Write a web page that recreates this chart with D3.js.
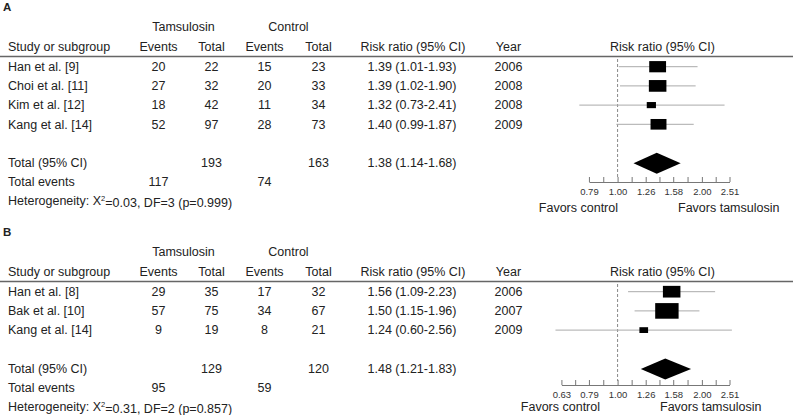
<!DOCTYPE html>
<html>
<head>
<meta charset="utf-8">
<script src="https://cdn.jsdelivr.net/npm/d3@7"></script>
<style>
    body { margin: 0; background: #fff; }
    text { font-family: "Liberation Sans", Arial, sans-serif; fill: #222; }
    .axe path, .axe line { stroke: #777; }
</style>
</head>
<body>
<script>
// Panel A
const etudesA = ["Han et al. [9]", "Choi et al. [11]", "Kim et al. [12]", "Kang et al. [14]"];
const evTamsA = [20, 27, 18, 52];
const totTamsA = [22, 32, 42, 97];
const evCtrlA = [15, 20, 11, 28];
const totCtrlA = [23, 33, 34, 73];
const rrA = [1.39, 1.39, 1.32, 1.40];
const basA = [1.01, 1.02, 0.73, 0.99];
const hautA = [1.93, 1.90, 2.41, 1.87];
const anneesA = [2006, 2008, 2008, 2009];
const poidsA = [30.5, 33.1, 9.1, 27.3];   // taille des carres (estimee)
const totauxA = [193, 163];
const totalEvA = [117, 74];
const globalA = [1.38, 1.14, 1.68];
const heteroA = ["0.03", "3", "0.999"];
const ticksA = [0.79, 1.00, 1.26, 1.58, 2.00, 2.51];

// Panel B
const etudesB = ["Han et al. [8]", "Bak et al. [10]", "Kang et al. [14]"];
const evTamsB = [29, 57, 9];
const totTamsB = [35, 75, 19];
const evCtrlB = [17, 34, 8];
const totCtrlB = [32, 67, 21];
const rrB = [1.56, 1.50, 1.24];
const basB = [1.09, 1.15, 0.60];
const hautB = [2.23, 1.96, 2.56];
const anneesB = [2006, 2007, 2009];
const poidsB = [33.0, 58.9, 8.1];
const totauxB = [129, 120];
const totalEvB = [95, 59];
const globalB = [1.48, 1.21, 1.83];
const heteroB = ["0.31", "2", "0.857"];
const ticksB = [0.63, 0.79, 1.00, 1.26, 1.58, 2.00, 2.51];

var svg = d3.select("body").append("svg")
    .attr("width", 795)
    .attr("height", 415);

var fmt = d3.format(".2f");
var pasLigne = 19.2;

// colonnes du tableau
var col = {
    etude: 8,
    evT: 158.5,
    totT: 211.5,
    evC: 264.5,
    totC: 318.5,
    rr: 412,
    annee: 508.5,
    graphe: 662.5
};

function panneau(p) {
    var g = svg.append("g").attr("transform", "translate(0," + p.top + ")");
    var n = p.etudes.length;
    var yLigne = k => 66.7 + k * pasLigne;

    // echelle log (meme px par decade dans les deux panneaux)
    var x = d3.scaleLog()
        .domain([p.ticks[0], 2.51])
        .range([729.5 - 280 * Math.log10(2.51 / p.ticks[0]), 729.5]);

    function texte(s, xx, yy, anchor) {
        return g.append("text")
            .attr("x", xx)
            .attr("y", yy)
            .attr("dy", "0.35em")
            .attr("text-anchor", anchor || "middle")
            .style("font-size", "12.5px")
            .text(s);
    }

    // lettre du panneau
    g.append("text")
        .attr("x", 3)
        .attr("y", 11)
        .style("font-size", "11.5px")
        .style("font-weight", "bold")
        .text(p.lettre);

    // en-tetes
    texte("Tamsulosin", 183.5, 26.7);
    texte("Control", 288.5, 26.7);
    texte("Study or subgroup", col.etude, 46.7, "start");
    texte("Events", col.evT, 46.7);
    texte("Total", col.totT, 46.7);
    texte("Events", col.evC, 46.7);
    texte("Total", col.totC, 46.7);
    texte("Risk ratio (95% CI)", col.rr + 1, 46.7);
    texte("Year", col.annee, 46.7);
    texte("Risk ratio (95% CI)", col.graphe, 46.7);

    g.append("line")
        .attr("x1", 0).attr("x2", 793)
        .attr("y1", 56.5).attr("y2", 56.5)
        .attr("stroke", "#666")
        .attr("stroke-width", 1.5);

    // lignes des etudes
    p.etudes.forEach(function(e, i) {
        var yy = yLigne(i);
        texte(e, col.etude, yy, "start");
        texte(p.evT[i], col.evT, yy);
        texte(p.totT[i], col.totT, yy);
        texte(p.evC[i], col.evC, yy);
        texte(p.totC[i], col.totC, yy);
        texte(fmt(p.rr[i]) + " (" + fmt(p.bas[i]) + "-" + fmt(p.haut[i]) + ")", col.rr, yy);
        texte(p.annees[i], col.annee, yy);
    });

    var yTot = yLigne(n + 1);
    texte("Total (95% CI)", col.etude, yTot, "start");
    texte(p.totaux[0], col.totT, yTot);
    texte(p.totaux[1], col.totC, yTot);
    texte(fmt(p.global[0]) + " (" + fmt(p.global[1]) + "-" + fmt(p.global[2]) + ")", col.rr, yTot);

    texte("Total events", col.etude, yLigne(n + 2), "start");
    texte(p.totalEv[0], col.evT, yLigne(n + 2));
    texte(p.totalEv[1], col.evC, yLigne(n + 2));

    var het = texte("", col.etude, yLigne(n + 2) + 18.6, "start");
    het.append("tspan").text("Heterogeneity: X");
    het.append("tspan").attr("dy", "-0.5em").style("font-size", "7.5px").text("2");
    het.append("tspan").attr("dy", "0.5em").text("=" + p.hetero[0] + ", DF=" + p.hetero[1] + " (p=" + p.hetero[2] + ")");

    // ligne de reference a 1
    g.append("line")
        .attr("x1", x(1)).attr("x2", x(1))
        .attr("y1", 59).attr("y2", p.axeY - 4)
        .attr("stroke", "#888")
        .attr("stroke-dasharray", "3,2");

    // intervalles de confiance
    g.selectAll(".ic").data(p.etudes).enter()
        .append("line")
        .attr("class", "ic")
        .attr("x1", (d, i) => x(p.bas[i]))
        .attr("x2", (d, i) => x(p.haut[i]))
        .attr("y1", (d, i) => yLigne(i))
        .attr("y2", (d, i) => yLigne(i))
        .attr("stroke", "#aaa")
        .attr("stroke-width", 1);

    // carres : aire proportionnelle au poids
    var larg = w => Math.sqrt(w * 6.2 * 1.5);
    g.selectAll(".carre").data(p.etudes).enter()
        .append("rect")
        .attr("class", "carre")
        .attr("x", (d, i) => x(p.rr[i]) - larg(p.poids[i]) / 2)
        .attr("y", (d, i) => yLigne(i) - larg(p.poids[i]) / 1.5 / 2)
        .attr("width", (d, i) => larg(p.poids[i]))
        .attr("height", (d, i) => larg(p.poids[i]) / 1.5)
        .attr("fill", "#000");

    // losange global
    var yd = yTot + 0.5;
    g.append("polygon")
        .attr("points", [
            [x(p.global[1]), yd],
            [x(p.global[0]), yd - 10.5],
            [x(p.global[2]), yd],
            [x(p.global[0]), yd + 10.5]
        ].map(d => d.join(",")).join(" "))
        .attr("fill", "#000");

    // axe avec graduations intermediaires
    var mineurs = d3.pairs(p.ticks).map(d => Math.sqrt(d[0] * d[1]));
    var axe = d3.axisBottom(x)
        .tickValues(p.ticks.concat(mineurs))
        .tickFormat(d => p.ticks.indexOf(d) >= 0 ? fmt(d) : "")
        .tickSizeInner(-5)
        .tickSizeOuter(0)
        .tickPadding(6);

    var gAxe = g.append("g")
        .attr("class", "axe")
        .attr("transform", "translate(0," + p.axeY + ")")
        .call(axe);
    gAxe.attr("font-size", null).attr("font-family", null);
    gAxe.selectAll("text")
        .style("font-size", "9.5px")
        .style("fill", "#333");

    texte("Favors control", p.favC, p.favY, "end");
    texte("Favors tamsulosin", p.favT, p.favY, "start");
}

panneau({
    lettre: "A", top: 0,
    etudes: etudesA, evT: evTamsA, totT: totTamsA, evC: evCtrlA, totC: totCtrlA,
    rr: rrA, bas: basA, haut: hautA, annees: anneesA, poids: poidsA,
    totaux: totauxA, totalEv: totalEvA, global: globalA, hetero: heteroA,
    ticks: ticksA, axeY: 182, favY: 208, favC: 618, favT: 678
});

panneau({
    lettre: "B", top: 225,
    etudes: etudesB, evT: evTamsB, totT: totTamsB, evC: evCtrlB, totC: totCtrlB,
    rr: rrB, bas: basB, haut: hautB, annees: anneesB, poids: poidsB,
    totaux: totauxB, totalEv: totalEvB, global: globalB, hetero: heteroB,
    ticks: ticksB, axeY: 160, favY: 181.5, favC: 600, favT: 660
});
</script>
</body>
</html>
